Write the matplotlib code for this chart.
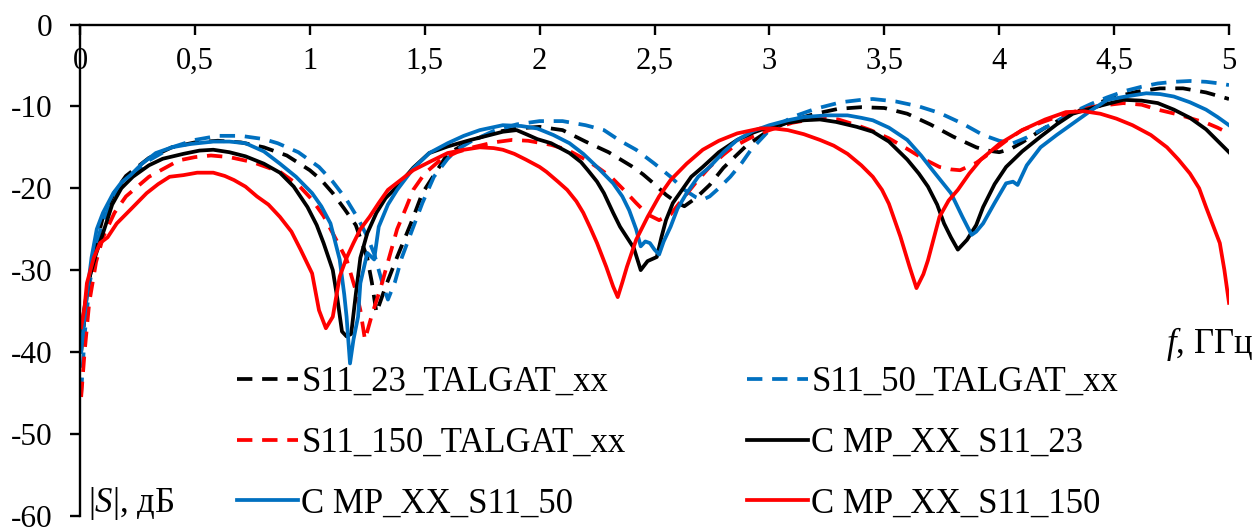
import matplotlib
matplotlib.use("Agg")
import matplotlib.pyplot as plt
from matplotlib.ticker import FixedLocator, FuncFormatter

plt.rcParams["font.family"] = ["Liberation Serif", "DejaVu Serif"]
plt.rcParams["mathtext.fontset"] = "custom"
plt.rcParams["mathtext.it"] = "Liberation Serif:italic"
plt.rcParams["mathtext.rm"] = "Liberation Serif"
plt.rcParams["axes.unicode_minus"] = False

# --- S11_23_TALGAT_xx ---
f_t23 = [0.005, 0.03, 0.06, 0.1, 0.15, 0.2, 0.3, 0.4, 0.5, 0.6, 0.7, 0.8, 0.9,
         1.0, 1.05, 1.1, 1.15, 1.2, 1.25, 1.27, 1.29, 1.33, 1.38, 1.44, 1.49,
         1.6, 1.7, 1.8, 1.9, 2.0, 2.1, 2.2, 2.3, 2.4, 2.45, 2.5, 2.55, 2.6,
         2.63, 2.68, 2.74, 2.8, 2.9, 3.0, 3.1, 3.2, 3.3, 3.4, 3.5, 3.6, 3.7,
         3.8, 3.9, 3.95, 4.0, 4.05, 4.1, 4.2, 4.3, 4.4, 4.5, 4.6, 4.7, 4.8,
         4.9, 5.0]
s_t23 = [-40, -33, -28, -23.5, -20.5, -18.5, -16.3, -15.0, -14.4, -14.2,
         -14.4, -15.0, -16.0, -17.8, -19.0, -20.6, -22.5, -24.5, -28.5, -31.5,
         -35.2, -32.0, -28.4, -24.3, -20.6, -15.8, -14.2, -13.2, -12.7, -12.5,
         -12.9, -14.3, -15.6, -17.3, -18.3, -19.5, -20.8, -21.8, -22.2, -21.2,
         -19.6, -17.5, -14.8, -12.9, -11.7, -10.9, -10.3, -10.1, -10.2, -10.9,
         -12.2, -13.7, -15.0, -15.4, -15.6, -15.2, -14.4, -12.6, -11.1, -9.9,
         -8.9, -8.2, -7.8, -7.8, -8.3, -9.1]

# --- S11_50_TALGAT_xx ---
f_t50 = [0.005, 0.02, 0.04, 0.07, 0.1, 0.15, 0.2, 0.3, 0.4, 0.5, 0.6, 0.7,
         0.8, 0.86, 0.95, 1.04, 1.1, 1.16, 1.21, 1.25, 1.28, 1.3, 1.32, 1.34,
         1.37, 1.4, 1.44, 1.49, 1.54, 1.6, 1.64, 1.7, 1.8, 1.9, 2.0, 2.1, 2.2,
         2.28, 2.35, 2.42, 2.5, 2.57, 2.63, 2.68, 2.71, 2.74, 2.78, 2.83, 2.88,
         2.92, 2.96, 3.0, 3.1, 3.2, 3.31, 3.4, 3.45, 3.55, 3.65, 3.74, 3.84,
         3.93, 4.0, 4.06, 4.12, 4.18, 4.24, 4.3, 4.4, 4.47, 4.55, 4.62, 4.69,
         4.76, 4.83, 4.9, 4.96, 5.0]
s_t50 = [-45, -38, -32, -27, -24, -21, -19.2, -16.6, -15.0, -14.1, -13.6,
         -13.6, -14.0, -14.5, -15.6, -17.4, -19.2, -21.4, -23.7, -25.9, -28.0,
         -30.0, -32.0, -33.6, -31.5, -28.5, -25.5, -21.8, -18.6, -16.4, -15.3,
         -14.3, -13.0, -12.2, -11.8, -11.8, -12.3, -12.9, -14.2, -15.3, -17.0,
         -18.6, -20.2, -21.1, -21.4, -21.0, -20.0, -18.6, -16.9, -15.3, -14.1,
         -12.9, -11.3, -10.3, -9.5, -9.2, -9.1, -9.4, -10.0, -10.8, -12.1,
         -13.5, -14.2, -14.5, -13.8, -12.9, -12.0, -11.0, -9.7, -8.9, -8.1,
         -7.6, -7.2, -7.0, -6.9, -7.0, -7.2, -7.4]

# --- S11_150_TALGAT_xx ---
f_t150 = [0.005, 0.02, 0.04, 0.07, 0.1, 0.15, 0.2, 0.3, 0.43, 0.5, 0.57, 0.65,
          0.75, 0.87, 0.95, 1.01, 1.06, 1.1, 1.16, 1.2, 1.22, 1.24, 1.27, 1.31,
          1.35, 1.38, 1.42, 1.45, 1.5, 1.57, 1.64, 1.71, 1.8, 1.88, 1.95, 2.05,
          2.12, 2.2, 2.26, 2.31, 2.37, 2.42, 2.47, 2.52, 2.57, 2.62, 2.68, 2.74,
          2.8, 2.84, 2.92, 3.0, 3.1, 3.22, 3.3, 3.38, 3.44, 3.52, 3.6, 3.67,
          3.74, 3.79, 3.83, 3.9, 3.96, 4.04, 4.1, 4.18, 4.25, 4.32, 4.42, 4.54,
          4.62, 4.69, 4.78, 4.85, 4.9, 4.95, 5.0]
s_t150 = [-45.5, -40, -34, -29, -26, -23, -21, -18.6, -16.6, -16.2, -16.0,
          -16.2, -16.8, -18.0, -19.6, -21.4, -23.4, -25.5, -28.7, -32.5, -34.9,
          -38.5, -35.5, -32.0, -28.0, -25.0, -22.3, -20.2, -18.2, -16.5, -15.6,
          -15.0, -14.4, -14.1, -14.2, -14.7, -15.3, -16.5, -17.6, -18.6, -20.3,
          -21.8, -23.2, -23.9, -23.2, -21.4, -19.3, -17.4, -15.9, -15.0, -13.8,
          -12.9, -12.0, -11.4, -11.6, -12.3, -12.9, -13.9, -15.2, -16.4, -17.4,
          -17.7, -17.8, -16.9, -15.7, -14.0, -12.9, -12.0, -11.3, -10.7, -10.0,
          -9.6, -9.8, -10.4, -11.0, -11.6, -12.0, -12.6, -13.3]

# --- C MP_XX_S11_23 ---
f_m23 = [0.005, 0.02, 0.04, 0.07, 0.1, 0.14, 0.18, 0.23, 0.3, 0.36, 0.45,
         0.52, 0.58, 0.65, 0.72, 0.8, 0.87, 0.93, 0.99, 1.03, 1.06, 1.1, 1.12,
         1.14, 1.16, 1.18, 1.2, 1.22, 1.25, 1.29, 1.33, 1.38, 1.45, 1.52, 1.6,
         1.7, 1.77, 1.84, 1.9, 1.95, 1.99, 2.05, 2.13, 2.18, 2.21, 2.25, 2.28,
         2.32, 2.35, 2.38, 2.41, 2.44, 2.47, 2.51, 2.53, 2.55, 2.58, 2.62,
         2.66, 2.71, 2.78, 2.86, 2.93, 3.0, 3.08, 3.15, 3.22, 3.29, 3.38, 3.45,
         3.52, 3.6, 3.65, 3.69, 3.73, 3.76, 3.79, 3.82, 3.84, 3.86, 3.9, 3.93,
         3.98, 4.03, 4.1, 4.18, 4.25, 4.32, 4.43, 4.54, 4.62, 4.69, 4.76, 4.83,
         4.9, 4.95, 5.0]
s_m23 = [-37.5, -34.5, -31, -28, -25.5, -22, -20, -18.6, -17.2, -16.4, -15.8,
         -15.4, -15.3, -15.6, -16.1, -17.0, -18.1, -19.8, -22.3, -24.5, -26.7,
         -30.0, -33.5, -37.5, -38.1, -37.8, -33.0, -28.5, -25.5, -23.0, -21.2,
         -19.8, -17.5, -15.7, -14.9, -14.1, -13.6, -13.1, -12.9, -13.5, -14.0,
         -14.5, -15.7, -16.8, -17.8, -19.2, -20.6, -23.0, -24.7, -26.0, -27.3,
         -30.0, -28.9, -28.4, -26.0, -23.9, -21.8, -20.2, -18.6, -17.4, -15.6,
         -14.1, -13.2, -12.5, -12.0, -11.7, -11.6, -11.9, -12.5, -13.1, -14.3,
         -16.5, -18.2, -19.8, -22.0, -24.3, -26.0, -27.5, -26.9, -26.3, -24.5,
         -22.3, -19.5, -17.4, -15.5, -13.7, -12.2, -10.9, -10.0, -9.2, -9.3,
         -9.6, -10.4, -11.4, -12.8, -14.2, -15.6]

# --- C MP_XX_S11_50 ---
f_m50 = [0.005, 0.015, 0.03, 0.05, 0.073, 0.1, 0.145, 0.18, 0.22, 0.27, 0.33,
         0.4, 0.48, 0.58, 0.65, 0.72, 0.8, 0.87, 0.94, 1.01, 1.05, 1.09, 1.13,
         1.15, 1.16, 1.175, 1.19, 1.21, 1.22, 1.25, 1.28, 1.3, 1.34, 1.38,
         1.45, 1.52, 1.6, 1.67, 1.74, 1.84, 1.92, 1.99, 2.06, 2.13, 2.19, 2.25,
         2.32, 2.36, 2.39, 2.42, 2.44, 2.46, 2.48, 2.5, 2.52, 2.54, 2.57, 2.6,
         2.64, 2.69, 2.74, 2.8, 2.86, 2.93, 3.0, 3.08, 3.15, 3.25, 3.34, 3.4,
         3.45, 3.52, 3.6, 3.66, 3.71, 3.75, 3.79, 3.84, 3.88, 3.9, 3.93, 3.98,
         4.03, 4.06, 4.08, 4.12, 4.18, 4.25, 4.32, 4.4, 4.47, 4.55, 4.64, 4.7,
         4.76, 4.83, 4.9, 4.95, 5.0]
s_m50 = [-40, -37, -33, -28.5, -25, -23, -20.6, -19.3, -18.4, -17.0, -15.7,
         -15.0, -14.6, -14.3, -14.3, -14.5, -15.5, -17.0, -18.6, -20.6, -22.2,
         -24.3, -28.7, -33.0, -35.7, -41.4, -38.5, -35.7, -31.6, -27.9, -28.7,
         -24.7, -22.0, -20.2, -17.6, -15.7, -14.5, -13.6, -12.9, -12.3, -12.4,
         -12.7, -13.5, -14.5, -15.8, -17.4, -19.4, -21.0, -22.7, -25.0, -27.1,
         -26.5, -26.7, -27.5, -28.1, -26.5, -24.7, -22.5, -20.6, -18.6, -17.4,
         -15.6, -14.1, -13.0, -12.3, -11.7, -11.3, -11.1, -11.1, -11.4, -11.7,
         -12.6, -14.1, -16.0, -17.8, -19.2, -20.6, -23.5, -25.7, -25.3, -24.3,
         -21.8, -19.4, -19.2, -19.6, -17.2, -15.0, -13.5, -12.1, -10.5, -9.2,
         -8.8, -8.4, -8.5, -8.8, -9.5, -10.4, -11.3, -12.3]

# --- C MP_XX_S11_150 ---
f_m150 = [0.005, 0.02, 0.03, 0.06, 0.087, 0.12, 0.16, 0.22, 0.29, 0.34, 0.39,
          0.45, 0.51, 0.58, 0.63, 0.67, 0.72, 0.77, 0.82, 0.87, 0.92, 0.96,
          1.01, 1.04, 1.07, 1.1, 1.13, 1.16, 1.19, 1.22, 1.26, 1.3, 1.34, 1.4,
          1.45, 1.52, 1.6, 1.67, 1.74, 1.8, 1.84, 1.89, 1.94, 2.0, 2.03, 2.08,
          2.12, 2.16, 2.19, 2.22, 2.25, 2.29, 2.32, 2.34, 2.36, 2.38, 2.42,
          2.47, 2.52, 2.57, 2.64, 2.71, 2.78, 2.86, 2.96, 3.02, 3.08, 3.15,
          3.22, 3.28, 3.34, 3.4, 3.45, 3.49, 3.52, 3.57, 3.61, 3.64, 3.67, 3.69,
          3.74, 3.78, 3.82, 3.87, 3.92, 4.0, 4.1, 4.2, 4.29, 4.37, 4.44, 4.51,
          4.58, 4.66, 4.73, 4.78, 4.83, 4.87, 4.9, 4.93, 4.96, 4.98, 5.0]
s_m150 = [-37, -34.5, -31.6, -28.5, -26.7, -26.0, -24.3, -22.6, -20.6, -19.5,
          -18.6, -18.4, -18.1, -18.1, -18.5, -19.0, -19.8, -21.0, -22.0, -23.5,
          -25.3, -27.5, -30.4, -34.9, -37.1, -35.7, -30.8, -28.5, -26.7, -25.0,
          -23.5, -21.8, -20.2, -18.9, -17.8, -16.8, -15.7, -15.3, -15.0, -15.1,
          -15.3, -15.8, -16.5, -17.4, -18.0, -19.2, -20.2, -21.6, -23.0, -24.8,
          -26.7, -29.6, -32.0, -33.3, -31.5, -29.6, -26.3, -23.5, -21.0, -19.0,
          -17.0, -15.3, -14.2, -13.3, -12.7, -12.7, -12.9, -13.4, -14.1, -14.8,
          -15.8, -17.2, -18.6, -20.2, -21.9, -25.9, -29.6, -32.2, -30.5, -28.8,
          -23.5, -21.5, -20.2, -18.2, -16.5, -14.6, -12.9, -11.6, -10.7, -10.6,
          -10.9, -11.5, -12.3, -13.5, -15.0, -16.5, -18.2, -20.0, -22.3, -24.5,
          -26.7, -30.0, -34.0]

labels = ["S11_23_TALGAT_xx", "S11_50_TALGAT_xx", "S11_150_TALGAT_xx",
          "C MP_XX_S11_23", "C MP_XX_S11_50", "C MP_XX_S11_150"]
x_ticks = [0, 0.5, 1, 1.5, 2, 2.5, 3, 3.5, 4, 4.5, 5]
y_ticks = [0, -10, -20, -30, -40, -50, -60]

BLACK, BLUE, RED = "#000000", "#0070C0", "#FF0000"
W, H = 1254, 527
fig = plt.figure(figsize=(W / 100, H / 100), dpi=100)
ax = fig.add_axes([80 / W, 1 - 515.7 / H, (1229 - 80) / W, (515.7 - 24.5) / H])

lw = 2.7
dash = (4.1, 2.6)
series = [
    (f_t23, s_t23, BLACK, True),
    (f_t50, s_t50, BLUE, True),
    (f_t150, s_t150, RED, True),
    (f_m23, s_m23, BLACK, False),
    (f_m50, s_m50, BLUE, False),
    (f_m150, s_m150, RED, False),
]
handles = []
for (fx, sy, col, dashed), lab in zip(series, labels):
    if dashed:
        h, = ax.plot(fx, sy, color=col, lw=lw, dashes=dash, label=lab,
                     dash_capstyle="butt")
    else:
        h, = ax.plot(fx, sy, color=col, lw=lw, label=lab)
    handles.append(h)

ax.set_xlim(0, 5)
ax.set_ylim(-60, 0)
for side in ("right", "bottom"):
    ax.spines[side].set_visible(False)
for side in ("left", "top"):
    ax.spines[side].set_linewidth(1.7)

ax.xaxis.set_major_locator(FixedLocator(x_ticks))
ax.xaxis.set_major_formatter(FuncFormatter(lambda v, p: f"{v:g}".replace(".", ",")))
ax.yaxis.set_major_locator(FixedLocator(y_ticks))
ax.yaxis.set_major_formatter(FuncFormatter(lambda v, p: f"{v:g}"))
ax.tick_params(axis="x", bottom=False, labelbottom=False, top=True, labeltop=True,
               direction="in", length=7, width=1.7, pad=-37, labelsize=22)
ax.tick_params(axis="y", direction="out", length=7, width=1.7, pad=13,
               labelsize=22.5)

# legend in two columns (row-major reading order)
order = [0, 2, 4, 1, 3, 5]
leg = ax.legend([handles[i] for i in order], [labels[i] for i in order],
                ncol=2, frameon=False, fontsize=25, loc="upper left",
                bbox_to_anchor=(237 / W, 1 - 366 / H), bbox_transform=fig.transFigure,
                handlelength=1.75, handletextpad=0.1, columnspacing=3.5,
                labelspacing=0.8, borderpad=0, borderaxespad=0)

fig.text(1253 / W, 1 - 353 / H, r"$f$, ГГц", fontsize=25, ha="right", va="baseline")
fig.text(88 / W, 1 - 512 / H, r"|$S$|, дБ", fontsize=25, ha="left", va="baseline")

fig.savefig("out.png", dpi=100)
